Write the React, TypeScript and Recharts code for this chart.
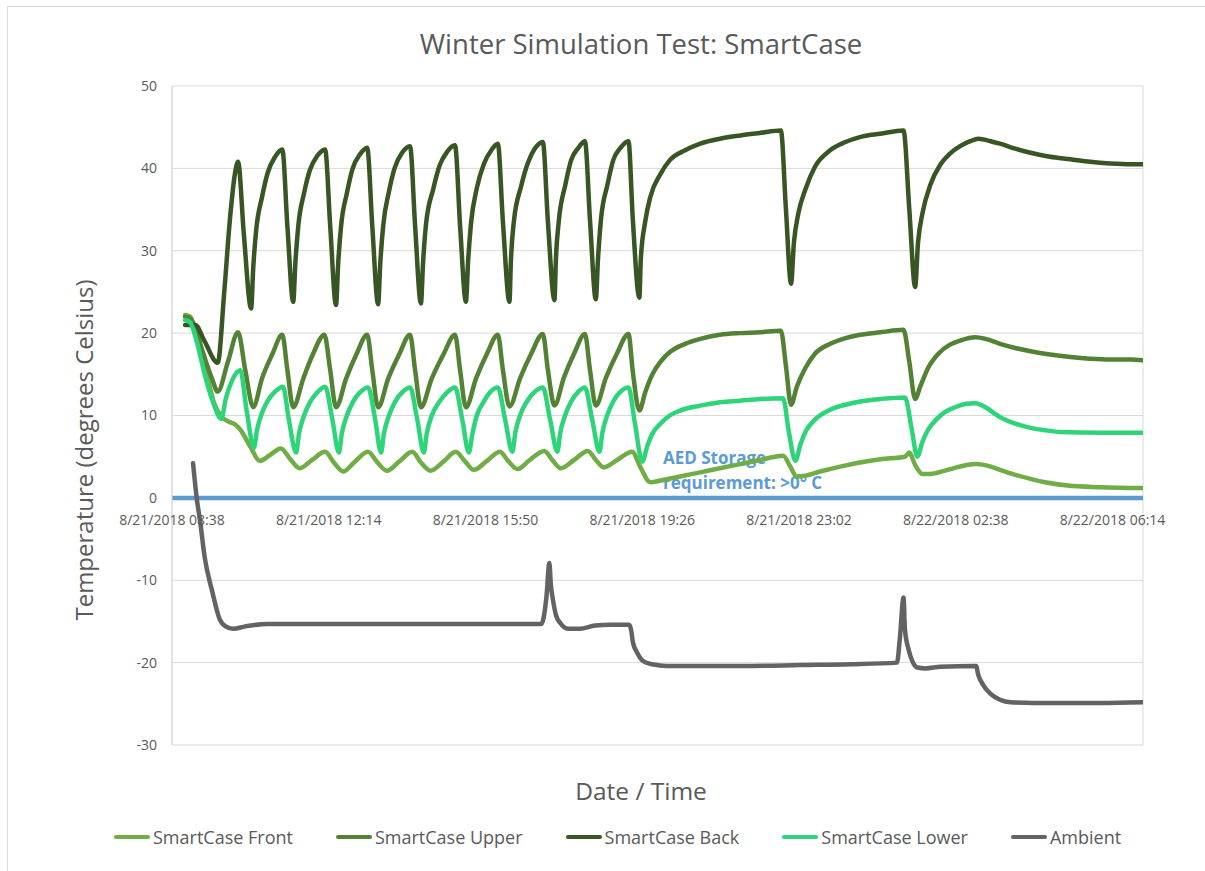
import React from 'react';
import { LineChart, Line, XAxis, YAxis, CartesianGrid, ReferenceDot, Legend } from 'recharts';

// x values are minutes after 8/21/2018 08:38
const tickMinutes = [0, 216, 432, 648, 864, 1080, 1296];
const tickLabels = [
  '8/21/2018 08:38',
  '8/21/2018 12:14',
  '8/21/2018 15:50',
  '8/21/2018 19:26',
  '8/21/2018 23:02',
  '8/22/2018 02:38',
  '8/22/2018 06:14',
];
const yTicks = [-30, -20, -10, 0, 10, 20, 30, 40, 50];

const frontData: [number, number][] = [
  [18, 22.2], [25, 22.0], [32, 20.5], [39, 18.5], [48, 15], [58, 11.5], [69, 9.8], [77, 9.3], [87, 8.9], [94, 8.3],
  [108, 6.2], [121, 4.5], [135, 5.2], [150, 6.0], [163, 4.7], [176, 3.6], [193, 4.6], [211, 5.6], [223, 4.3], [236, 3.2],
  [252, 4.4], [270, 5.6], [283, 4.3], [296, 3.3], [313, 4.4], [331, 5.6], [343, 4.3], [356, 3.3], [374, 4.4], [391, 5.6],
  [404, 4.4], [416, 3.4], [434, 4.5], [452, 5.6], [463, 4.5], [476, 3.5], [493, 4.6], [513, 5.7], [524, 4.6], [536, 3.6],
  [554, 4.6], [573, 5.7], [584, 4.6], [595, 3.7], [615, 4.7], [634, 5.6], [645, 3.8], [659, 1.9], [673, 2.1], [700, 2.6],
  [728, 3.1], [755, 3.6], [783, 4.1], [810, 4.6], [842, 5.1], [852, 3.8], [861, 2.6], [873, 2.7], [893, 3.2], [921, 3.8],
  [948, 4.3], [976, 4.7], [1010, 5.0], [1016, 5.5], [1024, 4.0], [1034, 2.9], [1045, 2.9], [1065, 3.3], [1086, 3.8],
  [1107, 4.1], [1128, 3.8], [1141, 3.4], [1162, 2.8], [1183, 2.3], [1203, 1.9], [1234, 1.5], [1279, 1.3], [1338, 1.2],
];

const upperData: [number, number][] = [
  [18, 22.0], [25, 21.8], [32, 20.5], [45, 17], [55, 14.5], [63, 12.9], [77, 16.5], [91, 20.1], [101, 15.5], [112, 11.0],
  [124, 14.5], [138, 17.4], [152, 19.8], [159, 15.5], [167, 11.0],
  [181, 14.5], [194, 17.4], [210, 19.8], [218, 15.5], [226, 11.0],
  [240, 14.5], [254, 17.4], [269, 19.8], [276, 15.5], [284, 11.0],
  [298, 14.5], [313, 17.4], [328, 19.8], [335, 15.5], [343, 11.0],
  [358, 14.5], [374, 17.4], [390, 19.8], [397, 15.5], [405, 11.0],
  [419, 14.5], [434, 17.5], [449, 19.8], [456, 15.5], [465, 11.1],
  [480, 14.6], [495, 17.5], [511, 19.9], [518, 15.5], [527, 11.2],
  [540, 14.6], [554, 17.5], [569, 19.9], [576, 15.5], [584, 11.2],
  [598, 14.6], [613, 17.5], [629, 19.9], [635, 15.3], [644, 10.6],
  [652, 12.8], [662, 15.0], [673, 16.5], [686, 17.7], [707, 18.7], [728, 19.3], [755, 19.8], [783, 20.0], [810, 20.1],
  [839, 20.3], [846, 16], [853, 11.3],
  [861, 13.5], [873, 15.8], [886, 17.5], [907, 18.7], [928, 19.4], [948, 19.8], [976, 20.1], [1008, 20.4], [1016, 16.5],
  [1024, 12.0],
  [1031, 13.5], [1042, 15.8], [1056, 17.5], [1072, 18.6], [1086, 19.1], [1107, 19.5], [1121, 19.3], [1141, 18.7],
  [1162, 18.2], [1183, 17.8], [1210, 17.4], [1238, 17.1], [1265, 16.9], [1293, 16.8], [1321, 16.8], [1338, 16.7],
];

const backData: [number, number][] = [
  [18, 21.0], [32, 21.0], [45, 19.0], [63, 16.4], [72, 25], [80, 34], [87, 39.5], [91, 40.8], [99, 32], [109, 23.0],
  [112, 28], [116, 32.5], [124, 36.5], [132, 39.5], [142, 41.4], [152, 42.3], [159, 33], [167, 23.8],
  [170, 28.5], [174, 33], [182, 37], [190, 39.8], [200, 41.5], [211, 42.3], [218, 33], [226, 23.4],
  [229, 28.5], [233, 33], [241, 37], [249, 40], [259, 41.7], [269, 42.5], [276, 33], [284, 23.5],
  [287, 28.5], [291, 33], [299, 37.2], [307, 40.1], [317, 41.9], [328, 42.7], [335, 33], [343, 23.6],
  [346, 28.6], [350, 33.2], [360, 37.5], [369, 40.4], [379, 42], [390, 42.8], [397, 33], [405, 23.8],
  [408, 28.7], [412, 33.3], [420, 37.6], [430, 40.6], [440, 42.2], [449, 43.0], [456, 33.5], [465, 23.8],
  [467, 28.8], [471, 33.5], [481, 37.8], [491, 40.8], [500, 42.4], [511, 43.2], [518, 33.5], [527, 24.0],
  [529, 29], [533, 33.6], [542, 38], [550, 41], [560, 42.5], [569, 43.3], [576, 33.7], [584, 24.1],
  [587, 29], [591, 33.7], [600, 38], [608, 41], [618, 42.5], [629, 43.3], [635, 33.8], [644, 24.3],
  [646, 29], [652, 33.5], [659, 36.5], [673, 39.3], [686, 41], [707, 42.2], [728, 43], [755, 43.6], [783, 44],
  [810, 44.3], [839, 44.6], [846, 35], [853, 26.0],
  [857, 31], [863, 34.5], [873, 37.5], [886, 40.2], [907, 42.2], [928, 43.2], [948, 43.8], [976, 44.2], [1008, 44.6],
  [1016, 35], [1024, 25.6],
  [1028, 31], [1034, 34.5], [1045, 38], [1059, 40.5], [1072, 41.8], [1086, 42.7], [1100, 43.3], [1111, 43.6],
  [1128, 43.3], [1141, 43], [1162, 42.4], [1183, 41.9], [1210, 41.4], [1238, 41.1], [1265, 40.8], [1293, 40.6],
  [1321, 40.5], [1338, 40.5],
];

const lowerData: [number, number][] = [
  [18, 21.6], [25, 21.3], [34, 19], [45, 15], [57, 11.5], [68, 9.6], [74, 12], [83, 14.3], [94, 15.5], [103, 10.5], [113, 6.1],
  [117, 8.2], [124, 10.3], [132, 11.8], [142, 12.9], [153, 13.5], [161, 9.5], [171, 5.5],
  [175, 7.8], [182, 10], [190, 11.6], [200, 12.8], [211, 13.5], [221, 9.5], [230, 5.5],
  [234, 7.8], [241, 10], [249, 11.6], [259, 12.8], [270, 13.4], [280, 9.5], [288, 5.5],
  [292, 7.8], [299, 10], [307, 11.6], [317, 12.8], [328, 13.4], [338, 9.5], [347, 5.5],
  [351, 7.8], [358, 10], [368, 11.6], [379, 12.8], [390, 13.4], [400, 9.5], [409, 5.5],
  [414, 7.8], [420, 10], [429, 11.6], [438, 12.8], [449, 13.4], [459, 9.5], [469, 5.6],
  [473, 7.9], [480, 10.1], [489, 11.7], [500, 12.9], [511, 13.4], [521, 9.5], [531, 5.6],
  [535, 7.9], [542, 10.1], [550, 11.7], [560, 12.9], [569, 13.4], [579, 9.5], [589, 5.6],
  [593, 7.9], [600, 10.1], [608, 11.7], [618, 12.9], [629, 13.4], [638, 9], [648, 4.4],
  [655, 6.3], [662, 7.8], [673, 9.0], [686, 10.0], [700, 10.6], [728, 11.2], [755, 11.6], [783, 11.8], [810, 12.0],
  [842, 12.1], [850, 8], [859, 4.5],
  [866, 6.5], [874, 8.2], [886, 9.5], [907, 10.7], [928, 11.3], [948, 11.7], [976, 12.0], [1010, 12.2], [1019, 8.5],
  [1027, 5.0],
  [1034, 6.8], [1042, 8.3], [1053, 9.5], [1065, 10.4], [1079, 11.0], [1093, 11.4], [1107, 11.5], [1121, 11.0],
  [1134, 10.2], [1141, 9.8], [1162, 9.0], [1183, 8.5], [1203, 8.2], [1224, 8.0], [1279, 7.9], [1338, 7.9],
];

const ambientData: [number, number][] = [
  [29, 4.2], [34, 0], [39, -3.0], [45, -7.2], [55, -11.2], [66, -14.8], [74, -15.6], [84, -15.9], [101, -15.6],
  [131, -15.3], [245, -15.3], [342, -15.3], [452, -15.3], [509, -15.3], [516, -12], [520, -7.9], [522, -10.5],
  [525, -12.4], [529, -14.2], [535, -15.2], [546, -15.9], [562, -15.9], [583, -15.5], [604, -15.4], [630, -15.4],
  [633, -16.2], [635, -17.5], [641, -18.8], [649, -19.8], [662, -20.2], [682, -20.4], [728, -20.4], [797, -20.4],
  [866, -20.3], [935, -20.2], [999, -20.0], [1003, -17], [1008, -12.1], [1010, -16], [1015, -18.4], [1020, -19.8],
  [1027, -20.6], [1038, -20.7], [1059, -20.5], [1108, -20.4], [1111, -21.5], [1117, -22.6], [1128, -23.8],
  [1141, -24.5], [1155, -24.8], [1210, -24.9], [1279, -24.9], [1338, -24.8],
];

const aedData: [number, number][] = [
  [0, 0],
  [1338, 0],
];

const toRows = (pts: [number, number][]) => pts.map(([t, v]) => ({ t, v }));

const series = [
  { name: 'SmartCase Front', color: '#70AD47', data: frontData },
  { name: 'SmartCase Upper', color: '#548235', data: upperData },
  { name: 'SmartCase Back', color: '#375623', data: backData },
  { name: 'SmartCase Lower', color: '#2ED47A', data: lowerData },
  { name: 'Ambient', color: '#636363', data: ambientData },
];

const FONT = '"Open Sans", "Liberation Sans", sans-serif';
const TEXT = '#595959';
const LW = 4.5;

function LegendContent() {
  return (
    <div style={{ display: 'flex', alignItems: 'center', paddingLeft: 114, gap: 43, fontFamily: FONT }}>
      {series.map((s) => (
        <div key={s.name} style={{ display: 'flex', alignItems: 'center' }}>
          <div style={{ width: 36, height: 4.5, background: s.color, borderRadius: 2, marginRight: 3 }} />
          <span style={{ fontSize: 18, color: TEXT, whiteSpace: 'nowrap' }}>{s.name}</span>
        </div>
      ))}
    </div>
  );
}

export default function App() {
  return (
    <div
      style={{
        position: 'absolute',
        left: 0,
        top: 0,
        width: 1205,
        height: 871,
        overflow: 'hidden',
        background: '#fff',
        fontFamily: FONT,
      }}
    >
      <div
        style={{
          position: 'absolute',
          left: 7,
          top: 6,
          width: 1300,
          height: 1000,
          borderTop: '1px solid #D9D9D9',
          borderLeft: '1px solid #D9D9D9',
        }}
      />
      <svg width={1205} height={871} style={{ position: 'absolute', left: 0, top: 0 }}>
        <text x={641} y={43} textAnchor="middle" dominantBaseline="central" fontSize={27.5} fill={TEXT} fontFamily={FONT}>
          Winter Simulation Test: SmartCase
        </text>
        <text x={641} y={790} textAnchor="middle" dominantBaseline="central" fontSize={24.5} fill={TEXT} fontFamily={FONT}>
          Date / Time
        </text>
        <text
          transform="translate(83,450) rotate(-90)"
          textAnchor="middle"
          dominantBaseline="central"
          fontSize={24}
          fill={TEXT}
          fontFamily={FONT}
        >
          Temperature (degrees Celsius)
        </text>
        <text x={663} y={457} dominantBaseline="central" fontSize={17} fontWeight="bold" fill="#5B9BD5" fontFamily={FONT}>
          AED Storage
        </text>
        <text x={663} y={482} dominantBaseline="central" fontSize={17} fontWeight="bold" fill="#5B9BD5" fontFamily={FONT}>
          requirement: &gt;0° C
        </text>
      </svg>
      <LineChart
        width={1205}
        height={871}
        margin={{ top: 86, right: 62, bottom: 125, left: 100 }}
        style={{ position: 'absolute', left: 0, top: 0, fontFamily: FONT }}
      >
        <CartesianGrid stroke="#D9D9D9" strokeWidth={1} />
        <XAxis
          type="number"
          dataKey="t"
          domain={[0, 1338]}
          ticks={tickMinutes}
          tick={false}
          tickLine={false}
          axisLine={false}
          height={1}
          allowDataOverflow
        />
        <YAxis
          type="number"
          domain={[-30, 50]}
          ticks={yTicks}
          width={72}
          tickLine={false}
          tickSize={0}
          tickMargin={15}
          axisLine={{ stroke: '#D9D9D9' }}
          tick={{ fill: TEXT, fontSize: 14, fontFamily: FONT }}
          allowDataOverflow
        />
        {tickMinutes.map((m, i) => (
          <ReferenceDot
            key={'tk' + m}
            x={m}
            y={0}
            r={0}
            fill="none"
            stroke="none"
            label={{ value: tickLabels[i], position: 'bottom', offset: 17, fill: TEXT, fontSize: 14, fontFamily: FONT }}
          />
        ))}
        <Line
          data={toRows(aedData)}
          dataKey="v"
          name="AED Storage requirement"
          stroke="#5B9BD5"
          strokeWidth={LW}
          dot={false}
          activeDot={false}
          legendType="none"
          isAnimationActive={false}
        />
        {series.map((s) => (
          <Line
            key={s.name}
            data={toRows(s.data)}
            dataKey="v"
            name={s.name}
            type="monotone"
            stroke={s.color}
            strokeWidth={LW}
            strokeLinejoin="round"
            strokeLinecap="round"
            dot={false}
            activeDot={false}
            isAnimationActive={false}
          />
        ))}
        <Legend
          layout="horizontal"
          verticalAlign="middle"
          align="center"
          wrapperStyle={{ left: 0, top: 825, width: 1205, height: 26 }}
          content={() => <LegendContent />}
        />
      </LineChart>
      <div
        style={{
          position: 'absolute',
          left: 1196,
          top: 8,
          width: 9,
          height: 863,
          background: '#fff',
          zIndex: 10,
        }}
      />
    </div>
  );
}
